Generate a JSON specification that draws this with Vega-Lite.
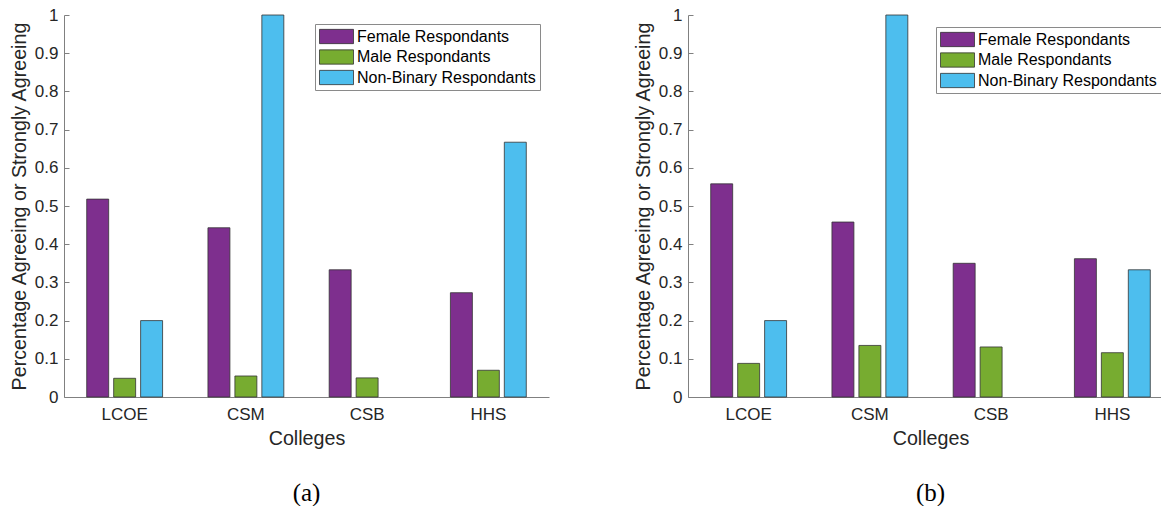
{
  "$schema": "https://vega.github.io/schema/vega-lite/v6.json",
  "padding": {"left": 9, "top": 6, "right": 0, "bottom": 0},
  "background": "white",
  "spacing": 139,
  "bounds": "flush",
  "datasets": {
    "a": [
      {"college": "LCOE", "group": "Female Respondants", "value": 0.518},
      {"college": "LCOE", "group": "Male Respondants", "value": 0.049},
      {"college": "LCOE", "group": "Non-Binary Respondants", "value": 0.2},
      {"college": "CSM", "group": "Female Respondants", "value": 0.443},
      {"college": "CSM", "group": "Male Respondants", "value": 0.055},
      {"college": "CSM", "group": "Non-Binary Respondants", "value": 1.0},
      {"college": "CSB", "group": "Female Respondants", "value": 0.333},
      {"college": "CSB", "group": "Male Respondants", "value": 0.05},
      {"college": "HHS", "group": "Female Respondants", "value": 0.273},
      {"college": "HHS", "group": "Male Respondants", "value": 0.07},
      {"college": "HHS", "group": "Non-Binary Respondants", "value": 0.667}
    ],
    "b": [
      {"college": "LCOE", "group": "Female Respondants", "value": 0.558},
      {"college": "LCOE", "group": "Male Respondants", "value": 0.088},
      {"college": "LCOE", "group": "Non-Binary Respondants", "value": 0.2},
      {"college": "CSM", "group": "Female Respondants", "value": 0.458},
      {"college": "CSM", "group": "Male Respondants", "value": 0.135},
      {"college": "CSM", "group": "Non-Binary Respondants", "value": 1.0},
      {"college": "CSB", "group": "Female Respondants", "value": 0.35},
      {"college": "CSB", "group": "Male Respondants", "value": 0.131},
      {"college": "HHS", "group": "Female Respondants", "value": 0.362},
      {"college": "HHS", "group": "Male Respondants", "value": 0.116},
      {"college": "HHS", "group": "Non-Binary Respondants", "value": 0.333}
    ]
  },
  "resolve": {"scale": {"color": "independent"}, "legend": {"color": "independent"}},
  "hconcat": [
    {
      "width": 485,
      "height": 382,
      "data": {"name": "a"},
      "title": {"text": "(a)", "orient": "bottom", "offset": 33},
      "mark": {"type": "bar", "stroke": "#333333", "strokeWidth": 0.8},
      "encoding": {
        "x": {"field": "college", "type": "nominal", "sort": ["LCOE", "CSM", "CSB", "HHS"], "title": "Colleges",
              "scale": {"paddingInner": 0.333, "paddingOuter": 0.1667}},
        "xOffset": {"field": "group", "type": "nominal", "sort": ["Female Respondants", "Male Respondants", "Non-Binary Respondants"],
                    "scale": {"domain": ["Female Respondants", "Male Respondants", "Non-Binary Respondants"], "paddingInner": 0.185, "paddingOuter": 0.0925}},
        "y": {"field": "value", "type": "quantitative", "title": "Percentage Agreeing or Strongly Agreeing",
              "scale": {"domain": [0, 1], "nice": false},
              "axis": {"values": [0, 0.1, 0.2, 0.3, 0.4, 0.5, 0.6, 0.7, 0.8, 0.9, 1], "format": "~g"}},
        "color": {"field": "group", "type": "nominal",
                  "scale": {"domain": ["Female Respondants", "Male Respondants", "Non-Binary Respondants"], "range": ["#7E2F8E", "#77AC30", "#4DBEEE"]},
                  "legend": {"orient": "top-right", "offset": 9}}
      }
    },
    {
      "width": 485,
      "height": 382,
      "data": {"name": "b"},
      "title": {"text": "(b)", "orient": "bottom", "offset": 33},
      "mark": {"type": "bar", "stroke": "#333333", "strokeWidth": 0.8},
      "encoding": {
        "x": {"field": "college", "type": "nominal", "sort": ["LCOE", "CSM", "CSB", "HHS"], "title": "Colleges",
              "scale": {"paddingInner": 0.333, "paddingOuter": 0.1667}},
        "xOffset": {"field": "group", "type": "nominal", "sort": ["Female Respondants", "Male Respondants", "Non-Binary Respondants"],
                    "scale": {"domain": ["Female Respondants", "Male Respondants", "Non-Binary Respondants"], "paddingInner": 0.185, "paddingOuter": 0.0925}},
        "y": {"field": "value", "type": "quantitative", "title": "Percentage Agreeing or Strongly Agreeing",
              "scale": {"domain": [0, 1], "nice": false},
              "axis": {"values": [0, 0.1, 0.2, 0.3, 0.4, 0.5, 0.6, 0.7, 0.8, 0.9, 1], "format": "~g"}},
        "color": {"field": "group", "type": "nominal",
                  "scale": {"domain": ["Female Respondants", "Male Respondants", "Non-Binary Respondants"], "range": ["#7E2F8E", "#77AC30", "#4DBEEE"]},
                  "legend": {"orient": "top-right", "offset": 12}}
      }
    }
  ],
  "config": {
    "view": {"stroke": null},
    "font": "Liberation Sans",
    "title": {"font": "Liberation Serif", "fontSize": 25, "fontWeight": "normal", "color": "#000000", "anchor": "middle"},
    "axis": {
      "domainColor": "#808080",
      "tickColor": "#808080",
      "labelFont": "Liberation Sans",
      "labelFontSize": 17,
      "labelColor": "#262626",
      "titleFont": "Liberation Sans",
      "titleFontSize": 19.7,
      "titleFontWeight": "normal",
      "titleColor": "#262626",
      "grid": false
    },
    "axisX": {"ticks": false, "labelAngle": 0, "labelPadding": 9, "titlePadding": 6},
    "axisY": {"tickSize": -5, "labelPadding": 11, "titlePadding": 5},
    "legend": {
      "title": null,
      "padding": 4,
      "strokeColor": "#8a8a8a",
      "fillColor": "white",
      "cornerRadius": 0,
      "labelFont": "Liberation Sans",
      "labelFontSize": 16,
      "labelColor": "#000000",
      "labelLimit": 0,
      "labelOffset": 3,
      "symbolType": "M-1,-0.42H1V0.42H-1Z",
      "symbolSize": 1156,
      "symbolStrokeColor": "#333333",
      "symbolStrokeWidth": 0.8,
      "symbolOpacity": 1,
      "clipHeight": 17,
      "rowPadding": 3.5
    }
  }
}
